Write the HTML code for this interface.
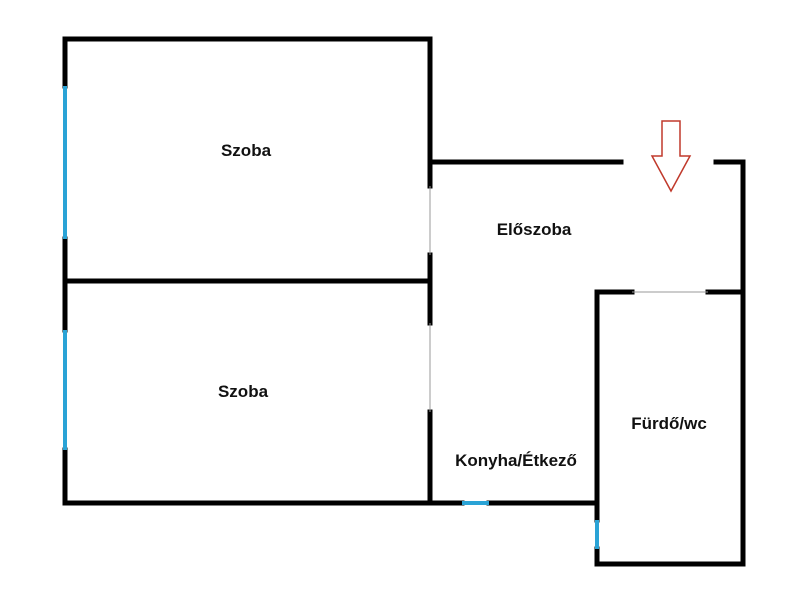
<!DOCTYPE html>
<html><head><meta charset="utf-8"><style>
body{margin:0;background:#fff}
svg{display:block}
text{font-family:"Liberation Sans",sans-serif;font-weight:bold;font-size:17px;fill:#111;text-anchor:middle}
</style></head><body>
<svg width="800" height="600" viewBox="0 0 800 600">
<g stroke="#000" stroke-width="5" fill="none" stroke-linecap="square">
<line x1="65" y1="39" x2="430" y2="39"/>
<line x1="65" y1="39" x2="65" y2="86"/>
<line x1="65" y1="239" x2="65" y2="330"/>
<line x1="65" y1="450" x2="65" y2="503"/>
<line x1="65" y1="281" x2="430" y2="281"/>
<line x1="430" y1="39" x2="430" y2="186"/>
<line x1="430" y1="255" x2="430" y2="323"/>
<line x1="430" y1="412" x2="430" y2="503"/>
<line x1="430" y1="162" x2="621" y2="162"/>
<line x1="716" y1="162" x2="743" y2="162"/>
<line x1="743" y1="162" x2="743" y2="564"/>
<line x1="597" y1="292" x2="632" y2="292"/>
<line x1="708" y1="292" x2="743" y2="292"/>
<line x1="597" y1="292" x2="597" y2="520"/>
<line x1="597" y1="549" x2="597" y2="564"/>
<line x1="597" y1="564" x2="743" y2="564"/>
<line x1="65" y1="503" x2="462" y2="503"/>
<line x1="489" y1="503" x2="597" y2="503"/>
</g>
<g stroke="#2aa3d6" stroke-width="4">
<line x1="65" y1="86" x2="65" y2="239"/>
<line x1="65" y1="330" x2="65" y2="450"/>
<line x1="462" y1="503" x2="489" y2="503"/>
<line x1="597" y1="520" x2="597" y2="549"/>
</g>
<g stroke="#999" stroke-width="1">
<line x1="430" y1="186" x2="430" y2="255"/>
<line x1="430" y1="323" x2="430" y2="412"/>
<line x1="632" y1="292" x2="708" y2="292"/>
</g>
<polygon points="662,121 680,121 680,156 690,156 671,191 652,156 662,156" fill="#fff" stroke="#c0392b" stroke-width="1.5"/>
<text x="246" y="156">Szoba</text>
<text x="243" y="397">Szoba</text>
<text x="534" y="235">Előszoba</text>
<text x="669" y="429">Fürdő/wc</text>
<text x="516" y="466">Konyha/Étkező</text>
</svg>
</body></html>
